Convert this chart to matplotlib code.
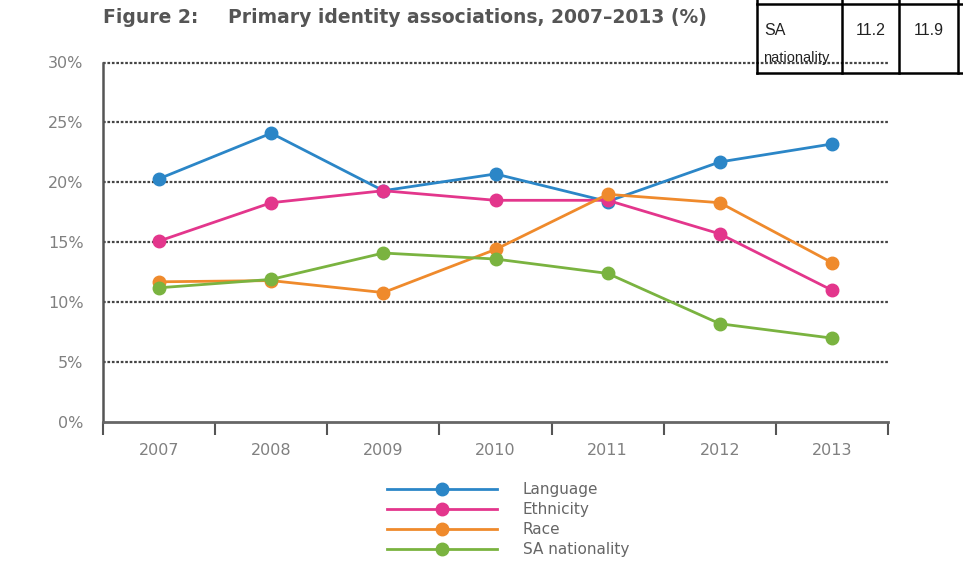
import matplotlib
matplotlib.use("Agg")
from matplotlib import pyplot as plt
from matplotlib.lines import Line2D

years = ["2007", "2008", "2009", "2010", "2011", "2012", "2013"]
language = [20.3, 24.1, 19.3, 20.7, 18.4, 21.7, 23.2]
ethnicity = [15.1, 18.3, 19.3, 18.5, 18.5, 15.7, 11.0]
race = [11.7, 11.8, 10.8, 14.4, 19.0, 18.3, 13.3]
sa_nationality = [11.2, 11.9, 14.1, 13.6, 12.4, 8.2, 7.0]
series_names = ["Language", "Ethnicity", "Race", "SA nationality"]
colors = ["#2b86c7", "#e3368c", "#ef8a2c", "#7ab340"]
yticks = [0, 5, 10, 15, 20, 25, 30]

plt.rcParams['font.family'] = ['DejaVu Sans']
fig = plt.figure(figsize=(9.63, 5.61), dpi=100)
ax = fig.add_axes([103/963, 1-422/561, 785/963, (422-62.5)/561])

x = list(range(len(years)))
for vals, name, c in zip([language, ethnicity, race, sa_nationality], series_names, colors):
    ax.plot(x, vals, color=c, lw=2, marker='o', markersize=9, label=name, zorder=3)

# dotted grid lines
for v in yticks[1:]:
    ax.axhline(v, color='#444444', lw=1.6, ls=(0, (1.2, 0.8)), zorder=1, clip_on=False)

ax.set_xlim(-0.5, 6.5)
ax.set_ylim(0, 30)
ax.set_yticks(yticks)
ax.set_yticklabels([str(v) + "%" for v in yticks], color='#808080', fontsize=11.5)
ax.set_xticks(x)
ax.set_xticklabels(years, color='#808080', fontsize=11.5)
ax.set_xticks([i - 0.5 for i in range(8)], minor=True)
ax.tick_params(axis='x', which='major', length=0, pad=15)
ax.tick_params(axis='x', which='minor', length=9, width=1.5, color='#555555', direction='out')
ax.tick_params(axis='y', length=0, pad=14)
for s in ['top', 'right']:
    ax.spines[s].set_visible(False)
ax.spines['left'].set_color('#555555')
ax.spines['left'].set_linewidth(1.8)
ax.spines['bottom'].set_color('#666666')
ax.spines['bottom'].set_linewidth(2)

# title
fig.text(103/963, 1-23/561, "Figure 2:", fontsize=13.5, fontweight='bold', color='#555555', va='baseline')
fig.text(228/963, 1-23/561, "Primary identity associations, 2007–2013 (%)", fontsize=13.5,
         fontweight='bold', color='#555555', va='baseline')

# legend
fig.legend(loc='upper left', bbox_to_anchor=(387/963, 1-482/561), frameon=False,
           handlelength=7.2, handletextpad=1.7, labelspacing=0.33, fontsize=11,
           labelcolor='#666666', borderpad=0, borderaxespad=0)

# partial table at the top right
tcol = 'black'
for xv in [757, 842, 899, 958]:
    fig.add_artist(Line2D([xv/963, xv/963], [1, 1-73/561], color=tcol, lw=1.8, transform=fig.transFigure))
for yv in [4, 73]:
    fig.add_artist(Line2D([757/963, 1], [1-yv/561, 1-yv/561], color=tcol, lw=1.8, transform=fig.transFigure))
tfont = ['Liberation Sans', 'DejaVu Sans']
fig.text(764/963, 1-35/561, "SA", fontsize=11.5, family=tfont, va='baseline', color='#222222')
fig.text(763/963, 1-62/561, "nationality", fontsize=10.5, family=tfont, va='baseline', color='#222222')
fig.text(886/963, 1-35/561, "11.2", fontsize=11.5, family=tfont, va='baseline', ha='right', color='#222222')
fig.text(944/963, 1-35/561, "11.9", fontsize=11.5, family=tfont, va='baseline', ha='right', color='#222222')

fig.savefig("out.png", dpi=100)
